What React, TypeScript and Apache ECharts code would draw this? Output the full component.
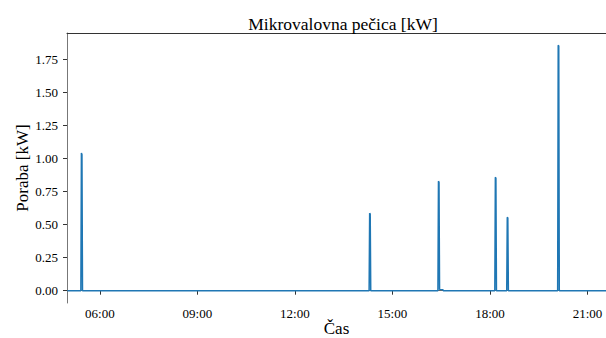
import React, { useEffect, useRef } from "react";
import * as echarts from "echarts";

// Measured samples (time of day, power in kW)
const sampleTimes = [
  "05:00", "05:25", "05:26", "05:27", "05:28",
  "14:17", "14:18", "14:19", "14:20",
  "16:24", "16:25", "16:26", "16:27", "16:33", "16:34",
  "18:09", "18:10", "18:11", "18:12",
  "18:31", "18:32", "18:33", "18:34",
  "20:05", "20:06", "20:07", "20:08",
  "23:59",
];
const sampleValues = [
  0, 0, 1.04, 1.03, 0,
  0, 0.585, 0.58, 0,
  0, 0.828, 0.82, 0.01, 0.008, 0,
  0, 0.858, 0.85, 0,
  0, 0.555, 0.55, 0,
  0, 1.855, 1.85, 0,
  0,
];

const xTickHours = [6, 9, 12, 15, 18, 21];
const xTickLabels = ["06:00", "09:00", "12:00", "15:00", "18:00", "21:00"];
const yTicks = [0, 0.25, 0.5, 0.75, 1.0, 1.25, 1.5, 1.75];

const titleText = "Mikrovalovna pečica [kW]";
const xName = "Čas";
const yName = "Poraba [kW]";

const toHours = (s: string) => {
  const [h, m] = s.split(":").map(Number);
  return h + m / 60;
};

const FONT = "Liberation Serif";

export default function App() {
  const ref = useRef<HTMLDivElement>(null);
  useEffect(() => {
    if (!ref.current) return;
    const chart = echarts.init(ref.current, undefined, { renderer: "svg" });
    const data = sampleTimes.map((t, i) => [toHours(t), sampleValues[i]]);
    const xMin = 4.99;
    const xMax = 21.57;
    chart.setOption({
      animation: false,
      backgroundColor: "#ffffff",
      textStyle: { fontFamily: FONT },
      title: {
        text: titleText,
        left: 338,
        top: 10,
        textAlign: "center",
        textStyle: { fontFamily: FONT, fontSize: 17.5, fontWeight: "normal", color: "#000" },
      },
      grid: {
        left: 67,
        right: 0,
        top: 33,
        bottom: 35,
        containLabel: false,
        outerBoundsMode: "none",
      },
      xAxis: [
        {
          type: "value",
          min: xMin,
          max: xMax,
          position: "bottom",
          name: xName,
          nameLocation: "middle",
          nameGap: 17,
          nameMoveOverlap: false,
          nameTextStyle: { fontFamily: FONT, fontSize: 17, lineHeight: 17, color: "#000" },
          axisLine: { show: true, lineStyle: { color: "#666", width: 1 } },
          axisTick: {
            show: true,
            length: 4,
            customValues: xTickHours,
            lineStyle: { color: "#333" },
          },
          axisLabel: {
            customValues: xTickHours,
            margin: 4,
            fontFamily: FONT,
            fontSize: 13,
            color: "#000",
            formatter: (v: number) => {
              const i = xTickHours.indexOf(Math.round(v));
              return i >= 0 ? xTickLabels[i] : "";
            },
          },
          splitLine: { show: false },
        },
        {
          type: "value",
          min: xMin,
          max: xMax,
          position: "top",
          axisLine: { show: true, lineStyle: { color: "#333", width: 1 } },
          axisTick: { show: false },
          axisLabel: { show: false },
          splitLine: { show: false },
        },
      ],
      yAxis: {
        type: "value",
        min: -0.093,
        max: 1.948,
        name: yName,
        nameLocation: "middle",
        nameGap: 36,
        nameMoveOverlap: false,
        nameTextStyle: { fontFamily: FONT, fontSize: 17, lineHeight: 17, color: "#000" },
        axisLine: { show: true, lineStyle: { color: "#777", width: 1 } },
        axisTick: {
          show: true,
          length: 4,
          customValues: yTicks,
          lineStyle: { color: "#333" },
        },
        axisLabel: {
          customValues: yTicks,
          margin: 9,
          fontFamily: FONT,
          fontSize: 13,
          color: "#000",
          formatter: (v: number) => v.toFixed(2),
        },
        splitLine: { show: false },
      },
      series: [
        {
          type: "line",
          xAxisIndex: 0,
          data,
          showSymbol: false,
          symbol: "none",
          lineStyle: { color: "#1f77b4", width: 1.5 },
          clip: true,
        },
      ],
    });
    return () => chart.dispose();
  }, []);
  return (
    <div
      ref={ref}
      style={{ position: "fixed", left: 0, top: 0, width: 606, height: 338, background: "#fff" }}
    />
  );
}
